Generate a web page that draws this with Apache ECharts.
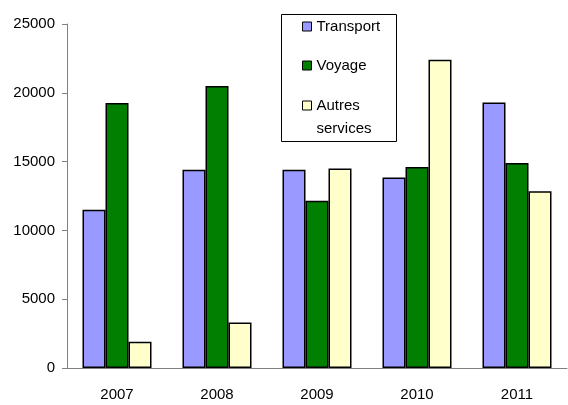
<!DOCTYPE html>
<html>
<head>
<meta charset="utf-8">
<script src="https://cdn.jsdelivr.net/npm/echarts@6/dist/echarts.min.js"></script>
<style>
  html, body { margin: 0; padding: 0; background: #fff; }
  #chart { width: 568px; height: 405px; }
</style>
</head>
<body>
<div id="chart"></div>
<script>
// annees et valeurs
var years = ['2007', '2008', '2009', '2010', '2011'];
var transport = [11500, 14400, 14400, 13850, 19300];
var voyage = [19250, 20500, 12150, 14600, 14900];
var autres = [1900, 3300, 14500, 22400, 12850];
var yTicks = { min: 0, max: 25000, interval: 5000 };

var font = 'Liberation Sans, Arial, sans-serif';

function barSeries(name, color, data) {
  return {
    type: 'bar',
    name: name,
    data: data,
    barGap: '0%',
    barCategoryGap: '31%',
    itemStyle: { color: color, borderColor: '#000', borderWidth: 1.5 }
  };
}

var option = {
  animation: false,
  textStyle: { fontFamily: font },
  grid: { left: 67, right: 1, top: 24, bottom: 37, outerBoundsMode: 'none' },
  graphic: [{
    type: 'rect',
    z: 0,
    shape: { x: 281.5, y: 14.5, width: 115, height: 127 },
    style: { fill: '#fff', stroke: '#000', lineWidth: 1 }
  }],
  legend: [{
    orient: 'vertical',
    left: 302, top: 18,
    padding: 0,
    itemGap: 22,
    icon: 'rect',
    itemWidth: 9, itemHeight: 9,
    itemStyle: { borderColor: '#000', borderWidth: 1 },
    textStyle: { fontFamily: font, fontSize: 15, color: '#000', lineHeight: 17 },
    data: ['Transport', 'Voyage']
  }, {
    orient: 'vertical',
    left: 302, top: 71,
    padding: 0,
    icon: 'rect',
    itemWidth: 9, itemHeight: 9,
    itemStyle: { borderColor: '#000', borderWidth: 1 },
    textStyle: { fontFamily: font, fontSize: 15, color: '#000', lineHeight: 23 },
    formatter: function () { return ' \nAutres\nservices'; },
    data: ['Autres services']
  }],
  xAxis: {
    type: 'category',
    data: years,
    axisLine: { lineStyle: { color: '#808080', width: 1 } },
    axisTick: { length: 5, lineStyle: { color: '#808080' } },
    axisLabel: { color: '#000', fontSize: 15, margin: 19 }
  },
  yAxis: {
    type: 'value',
    min: yTicks.min, max: yTicks.max, interval: yTicks.interval,
    splitLine: { show: false },
    axisLine: { show: true, lineStyle: { color: '#808080', width: 1 } },
    axisTick: { show: true, length: 5, lineStyle: { color: '#808080' } },
    axisLabel: {
      color: '#000', fontSize: 15, margin: 12,
      formatter: function (v) { return String(v); }
    }
  },
  series: [
    barSeries('Transport', '#9999FF', transport),
    barSeries('Voyage', '#007F00', voyage),
    barSeries('Autres services', '#FFFFCC', autres)
  ]
};

var chart = echarts.init(document.getElementById('chart'));
chart.setOption(option);
</script>
</body>
</html>
